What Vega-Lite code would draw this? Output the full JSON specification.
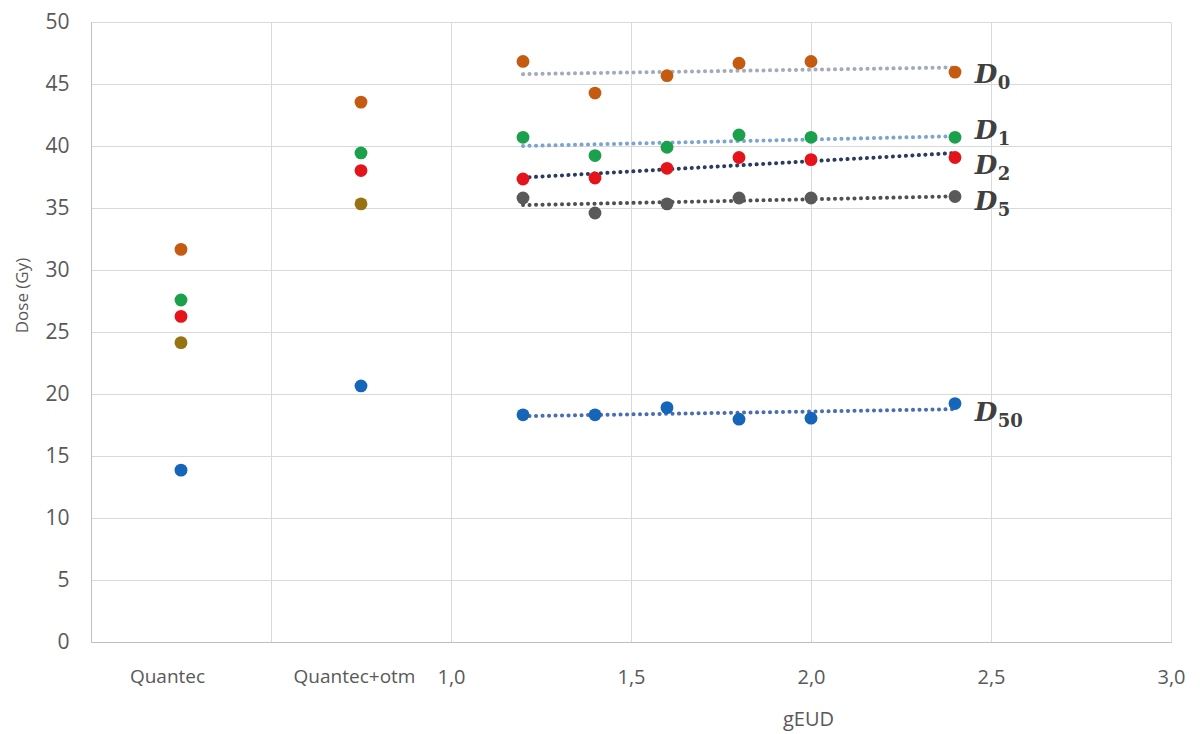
{
  "$schema": "https://vega.github.io/schema/vega-lite/v6.json",
  "width": 1080,
  "height": 620,
  "autosize": {"type": "none"},
  "padding": {"left": 91, "top": 22, "right": 29, "bottom": 92},
  "background": "white",
  "config": {"view": {"stroke": null}, "font": "Open Sans"},
  "datasets": {
    "points": [
      {"set": "Quantec", "series": "D0", "x": 0.25, "dose": 31.66},
      {"set": "Quantec", "series": "D1", "x": 0.25, "dose": 27.58},
      {"set": "Quantec", "series": "D2", "x": 0.25, "dose": 26.26},
      {"set": "Quantec", "series": "D5", "x": 0.25, "dose": 24.14},
      {"set": "Quantec", "series": "D50", "x": 0.25, "dose": 13.86},
      {"set": "Quantec+otm", "series": "D0", "x": 0.75, "dose": 43.54},
      {"set": "Quantec+otm", "series": "D1", "x": 0.75, "dose": 39.44},
      {"set": "Quantec+otm", "series": "D2", "x": 0.75, "dose": 38.02},
      {"set": "Quantec+otm", "series": "D5", "x": 0.75, "dose": 35.33},
      {"set": "Quantec+otm", "series": "D50", "x": 0.75, "dose": 20.65},
      {"set": "gEUD", "series": "D0", "x": 1.2, "dose": 46.82},
      {"set": "gEUD", "series": "D0", "x": 1.4, "dose": 44.27},
      {"set": "gEUD", "series": "D0", "x": 1.6, "dose": 45.67},
      {"set": "gEUD", "series": "D0", "x": 1.8, "dose": 46.68},
      {"set": "gEUD", "series": "D0", "x": 2.0, "dose": 46.82},
      {"set": "gEUD", "series": "D0", "x": 2.4, "dose": 45.96},
      {"set": "gEUD", "series": "D1", "x": 1.2, "dose": 40.7},
      {"set": "gEUD", "series": "D1", "x": 1.4, "dose": 39.23},
      {"set": "gEUD", "series": "D1", "x": 1.6, "dose": 39.9},
      {"set": "gEUD", "series": "D1", "x": 1.8, "dose": 40.89},
      {"set": "gEUD", "series": "D1", "x": 2.0, "dose": 40.7},
      {"set": "gEUD", "series": "D1", "x": 2.4, "dose": 40.7},
      {"set": "gEUD", "series": "D2", "x": 1.2, "dose": 37.34},
      {"set": "gEUD", "series": "D2", "x": 1.4, "dose": 37.42},
      {"set": "gEUD", "series": "D2", "x": 1.6, "dose": 38.2},
      {"set": "gEUD", "series": "D2", "x": 1.8, "dose": 39.07},
      {"set": "gEUD", "series": "D2", "x": 2.0, "dose": 38.9},
      {"set": "gEUD", "series": "D2", "x": 2.4, "dose": 39.07},
      {"set": "gEUD", "series": "D5", "x": 1.2, "dose": 35.81},
      {"set": "gEUD", "series": "D5", "x": 1.4, "dose": 34.6},
      {"set": "gEUD", "series": "D5", "x": 1.6, "dose": 35.33},
      {"set": "gEUD", "series": "D5", "x": 1.8, "dose": 35.81},
      {"set": "gEUD", "series": "D5", "x": 2.0, "dose": 35.81},
      {"set": "gEUD", "series": "D5", "x": 2.4, "dose": 35.93},
      {"set": "gEUD", "series": "D50", "x": 1.2, "dose": 18.32},
      {"set": "gEUD", "series": "D50", "x": 1.4, "dose": 18.32},
      {"set": "gEUD", "series": "D50", "x": 1.6, "dose": 18.9},
      {"set": "gEUD", "series": "D50", "x": 1.8, "dose": 17.97},
      {"set": "gEUD", "series": "D50", "x": 2.0, "dose": 18.05},
      {"set": "gEUD", "series": "D50", "x": 2.4, "dose": 19.23}
    ],
    "labels": [
      {"label": "D", "sub": "0", "x": 2.455, "dose": 45.12},
      {"label": "D", "sub": "1", "x": 2.455, "dose": 40.6},
      {"label": "D", "sub": "2", "x": 2.455, "dose": 37.78},
      {"label": "D", "sub": "5", "x": 2.455, "dose": 34.8},
      {"label": "D", "sub": "50", "x": 2.455, "dose": 17.86}
    ]
  },
  "layer": [
    {
      "data": {"name": "points"},
      "transform": [
        {"filter": "datum.set == 'gEUD'"},
        {"regression": "dose", "on": "x", "groupby": ["series"]}
      ],
      "mark": {"type": "line", "strokeWidth": 4, "strokeDash": [0.1, 6.4], "strokeCap": "round"},
      "encoding": {
        "x": {
          "field": "x",
          "type": "quantitative",
          "scale": {"domain": [0, 3], "nice": false, "zero": false},
          "axis": {
            "values": [0, 0.25, 0.5, 0.75, 1, 1.5, 2, 2.5, 3],
            "grid": true,
            "gridColor": "#D9D9D9",
            "gridOpacity": {"condition": {"test": "datum.value == 0.25 || datum.value == 0.75", "value": 0}, "value": 1},
            "ticks": false,
            "tickSize": 0,
            "domainColor": "#BFBFBF",
            "labelExpr": "datum.value == 0.25 ? 'Quantec' : datum.value == 0.75 ? 'Quantec+otm' : datum.value < 1 ? '' : replace(format(datum.value, '.1f'), '.', ',')",
            "labelFontSize": {"condition": {"test": "datum.value < 1", "value": 19}, "value": 20},
            "labelOffset": {"condition": [{"test": "datum.value == 0.25", "value": -14}, {"test": "datum.value == 0.75", "value": -7}], "value": 0},
            "labelColor": "#595959",
            "labelFont": "Open Sans",
            "labelPadding": 25,
            "labelOverlap": false,
            "labelFlush": false,
            "title": "gEUD",
            "titleFont": "Open Sans",
            "titleFontSize": 20,
            "titleFontWeight": "normal",
            "titleColor": "#595959",
            "titleX": 717,
            "titleY": 83,
            "titleBaseline": "alphabetic",
            "titleAlign": "center"
          }
        },
        "y": {
          "field": "dose",
          "type": "quantitative",
          "scale": {"domain": [0, 50], "nice": false},
          "axis": {
            "values": [0, 5, 10, 15, 20, 25, 30, 35, 40, 45, 50],
            "grid": true,
            "gridColor": "#D9D9D9",
            "ticks": false,
            "tickSize": 0,
            "domainColor": "#BFBFBF",
            "labelFontSize": 21,
            "labelColor": "#595959",
            "labelFont": "Open Sans",
            "labelPadding": 22,
            "title": "Dose (Gy)",
            "titleFont": "Open Sans",
            "titleFontSize": 17,
            "titleFontWeight": "normal",
            "titleColor": "#595959",
            "titleAngle": -90,
            "titleX": -69,
            "titleY": 273,
            "titleAlign": "center",
            "titleBaseline": "middle"
          }
        },
        "color": {
          "field": "series",
          "type": "nominal",
          "scale": {"domain": ["D0", "D1", "D2", "D5", "D50"], "range": ["#A3AAB8", "#7DA4CF", "#2B3B60", "#505050", "#4B6DB3"]},
          "legend": null
        }
      }
    },
    {
      "data": {"name": "points"},
      "mark": {"type": "circle", "size": 165, "opacity": 1},
      "encoding": {
        "x": {"field": "x", "type": "quantitative"},
        "y": {"field": "dose", "type": "quantitative"},
        "color": {
          "condition": {"test": "datum.set != 'gEUD' && datum.series == 'D5'", "value": "#977311"},
          "field": "series",
          "type": "nominal",
          "scale": {"domain": ["D0", "D1", "D2", "D5", "D50"], "range": ["#C55A11", "#1BA04B", "#E5141B", "#595959", "#1565B8"]},
          "legend": null
        }
      }
    },
    {
      "data": {"name": "labels"},
      "mark": {"type": "text", "font": "DejaVu Serif", "fontWeight": "bold", "fontStyle": "italic", "fontSize": 26, "color": "#404040", "align": "left", "baseline": "alphabetic"},
      "encoding": {
        "x": {"field": "x", "type": "quantitative"},
        "y": {"field": "dose", "type": "quantitative"},
        "text": {"field": "label"}
      }
    },
    {
      "data": {"name": "labels"},
      "mark": {"type": "text", "font": "DejaVu Serif", "fontWeight": "bold", "fontSize": 18, "color": "#404040", "align": "left", "baseline": "alphabetic", "dx": 23, "dy": 6},
      "encoding": {
        "x": {"field": "x", "type": "quantitative"},
        "y": {"field": "dose", "type": "quantitative"},
        "text": {"field": "sub"}
      }
    }
  ],
  "resolve": {"scale": {"color": "independent"}}
}
